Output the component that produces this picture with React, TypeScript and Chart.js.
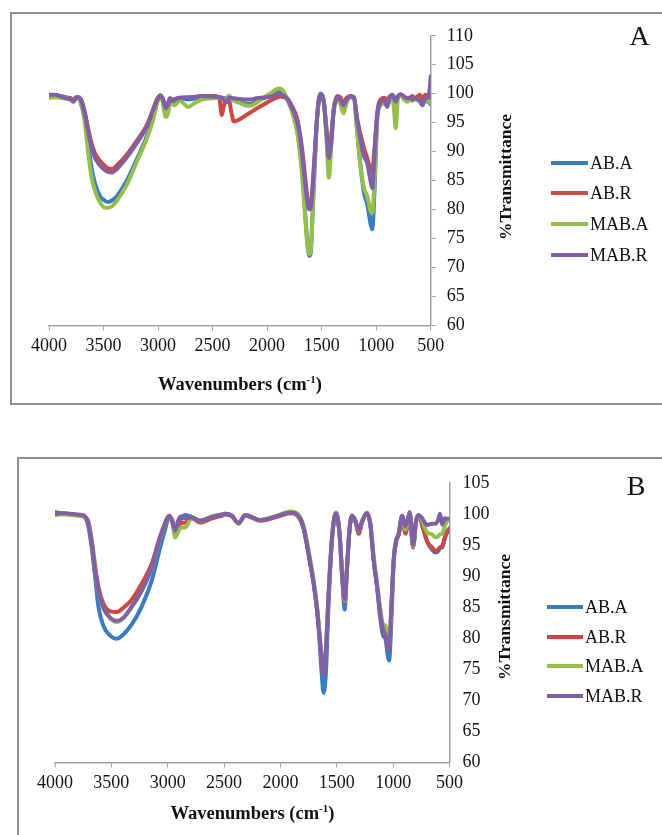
import React, { useEffect, useRef } from "react";
import { Chart, registerables } from "chart.js";

Chart.register(...registerables);

const SERIES_NAMES = ["AB.A", "AB.R", "MAB.A", "MAB.R"];
const SERIES_COLORS = ["#3a7bc2", "#cc4842", "#95bf4b", "#7f60a8"];

const X_TICKS = [4000, 3500, 3000, 2500, 2000, 1500, 1000, 500];

// ---------- Panel A ----------
const A_WAVENUMBERS = [
  4000, 3950, 3900, 3850, 3800, 3775, 3750, 3725, 3700, 3669, 3639, 3608, 3578, 3532, 3486, 3458, 3420, 3378,
  3286, 3194, 3102, 3042, 3005, 2980, 2960, 2930, 2910, 2890, 2870, 2850, 2800, 2720, 2680, 2600, 2500, 2440,
  2415, 2395, 2370, 2350, 2330, 2305, 2250, 2200, 2150, 2100, 2000, 1950, 1900, 1880, 1850, 1817, 1771, 1725,
  1694, 1670, 1648, 1627, 1612, 1600, 1587, 1566, 1541, 1511, 1480, 1456, 1434, 1413, 1389, 1357, 1330, 1300,
  1270, 1235, 1204, 1174, 1143, 1112, 1082, 1051, 1036, 1015, 990, 960, 930, 898, 875, 852, 835, 821, 800, 775,
  745, 714, 690, 668, 645, 622, 600, 576, 560, 545, 525, 508, 500,
];
const A_AB_A = [
  99.6, 99.7, 99.6, 99.4, 99.2, 98.8, 99.3, 99.2, 97.8, 95.5, 91.0, 87.0, 84.5, 82.3, 81.5, 81.3, 81.6, 82.3,
  85.0, 88.7, 92.7, 96.2, 98.8, 99.7, 99.0, 97.0, 97.5, 98.8, 98.6, 98.8, 99.2, 99.0, 99.1, 99.4, 99.5, 99.4,
  99.3, 99.2, 99.3, 99.4, 99.2, 99.0, 98.6, 98.3, 98.2, 98.7, 99.5, 99.9, 100.3, 100.2, 99.8, 99.0, 97.0, 93.8,
  89.5, 84.5, 78.5, 73.5, 72.0, 72.5, 77.5, 86.5, 96.0, 100.0, 98.6, 93.0, 87.8, 91.5, 97.2, 99.4, 99.0, 97.5,
  99.0, 99.5, 99.3, 93.6, 87.5, 82.9, 80.9, 77.5, 76.6, 83.3, 96.0, 98.6, 98.8, 98.0, 99.3, 99.6, 99.0, 98.8, 99.5, 99.8,
  99.4, 99.0, 99.2, 99.0, 99.2, 99.0, 98.8, 98.6, 99.0, 99.0, 98.6, 98.3, 98.2,
];
const A_AB_R = [
  99.5, 99.6, 99.5, 99.3, 99.2, 99.0, 99.4, 99.3, 98.8, 96.6, 93.8, 91.3, 89.7, 88.4, 87.5, 87.1, 87.0, 87.6,
  89.5, 91.9, 94.6, 97.5, 99.2, 99.7, 99.3, 98.0, 98.3, 99.2, 99.0, 99.0, 99.3, 99.3, 99.4, 99.6, 99.6, 99.4,
  96.3, 98.0, 99.2, 99.0, 97.0, 95.2, 95.6, 96.2, 96.8, 97.4, 98.5, 99.0, 99.4, 99.5, 99.4, 99.2, 97.8, 95.7,
  92.5, 89.0, 85.0, 81.5, 80.5, 80.6, 83.0, 89.0, 96.0, 99.8, 98.6, 94.0, 90.0, 92.5, 97.5, 99.6, 99.4, 98.5,
  99.3, 99.6, 99.4, 95.7, 92.9, 90.6, 88.9, 86.9, 86.6, 90.6, 96.8, 99.0, 99.3, 99.0, 99.5, 99.7, 99.4, 99.2, 99.6, 99.8,
  99.5, 99.2, 99.3, 99.6, 99.2, 99.5, 99.8, 99.0, 99.6, 99.8, 99.4, 99.3, 99.3,
];
const A_MAB_A = [
  99.3, 99.4, 99.3, 99.2, 99.0, 98.8, 99.2, 99.0, 98.0, 94.6, 89.5, 85.4, 83.2, 81.2, 80.3, 80.3, 80.6, 81.5,
  84.3, 88.3, 92.3, 95.7, 98.6, 99.6, 98.8, 96.0, 96.5, 98.3, 98.2, 98.0, 98.8, 97.7, 98.2, 99.0, 99.2, 99.3,
  99.2, 99.0, 99.2, 99.7, 99.2, 98.8, 98.4, 98.0, 97.9, 98.4, 99.7, 100.3, 100.9, 100.9, 100.4, 99.1, 96.9, 93.4,
  88.9, 83.7, 78.0, 73.2, 72.3, 72.8, 77.5, 86.6, 96.3, 100.0, 98.6, 92.3, 85.5, 90.6, 97.4, 99.0, 98.2, 96.6,
  98.5, 99.4, 99.2, 93.4, 87.2, 83.7, 82.3, 79.7, 79.4, 84.9, 95.5, 98.0, 98.3, 98.0, 99.2, 99.6, 97.0, 94.0, 99.2, 99.7,
  99.0, 98.6, 99.0, 98.8, 99.0, 99.0, 98.6, 98.0, 98.6, 99.0, 98.8, 98.5, 98.4,
];
const A_MAB_R = [
  99.8, 99.8, 99.6, 99.2, 99.0, 98.6, 99.4, 99.4, 98.6, 96.2, 93.2, 90.6, 88.9, 87.6, 86.8, 86.5, 86.4, 87.0,
  89.0, 91.5, 94.3, 97.3, 99.0, 99.7, 99.3, 97.5, 98.0, 99.2, 98.7, 99.0, 99.3, 99.4, 99.4, 99.6, 99.5, 99.4,
  99.3, 98.8, 98.5, 99.3, 99.3, 99.2, 99.1, 99.0, 99.0, 99.2, 99.4, 99.6, 99.9, 99.9, 99.7, 99.2, 97.5, 95.2,
  92.0, 88.0, 84.0, 80.8, 80.0, 80.2, 82.5, 88.5, 96.0, 100.0, 98.5, 93.5, 88.9, 91.5, 97.0, 99.3, 99.0, 98.0,
  99.0, 99.5, 99.3, 95.2, 92.0, 89.2, 88.0, 84.9, 83.7, 89.4, 96.3, 98.5, 99.0, 97.7, 99.4, 99.8, 99.2, 98.6, 99.6, 99.9,
  99.5, 99.2, 99.3, 99.0, 99.2, 99.0, 98.8, 98.0, 98.8, 99.2, 99.4, 101.0, 103.0,
];

// ---------- Panel B ----------
const B_WAVENUMBERS = [
  4000, 3950, 3900, 3850, 3800, 3763, 3733, 3704, 3674, 3645, 3615, 3571, 3511, 3452, 3393, 3319, 3230, 3141,
  3067, 3023, 2988, 2960, 2934, 2910, 2880, 2845, 2786, 2712, 2608, 2520, 2490, 2431, 2372, 2312, 2268, 2179,
  2090, 2001, 1912, 1853, 1820, 1794, 1765, 1735, 1705, 1676, 1656, 1635, 1617, 1596, 1572, 1542, 1507, 1475,
  1452, 1430, 1409, 1386, 1364, 1334, 1305, 1275, 1232, 1202, 1172, 1143, 1113, 1089, 1068, 1048, 1036, 1015,
  995, 974, 951, 920, 891, 853, 823, 797, 773, 743, 698, 654, 624, 600, 585, 565, 542, 521, 500,
];
const B_AB_A = [
  100.3, 100.1, 100.0, 99.9, 99.8, 99.8, 99.5, 98.0, 94.5, 90.0, 85.1, 82.0, 80.4, 79.9, 80.6, 82.2, 85.1, 89.3,
  94.6, 97.5, 99.5, 98.8, 97.0, 98.2, 99.2, 99.8, 99.5, 98.9, 99.5, 99.8, 100.0, 99.7, 98.5, 99.8, 99.6, 99.0,
  99.3, 99.8, 100.2, 100.0, 99.0, 97.7, 95.1, 92.0, 88.8, 84.6, 80.4, 74.6, 71.2, 74.6, 86.0, 96.0, 100.1, 96.7,
  89.9, 84.6, 91.4, 97.7, 99.7, 98.8, 97.0, 98.8, 100.1, 98.3, 92.5, 88.3, 83.0, 80.4, 79.9, 77.2, 76.4, 83.0,
  92.5, 95.6, 96.7, 99.7, 97.0, 100.0, 94.6, 98.8, 99.8, 98.2, 95.5, 94.2, 93.8, 94.0, 94.5, 94.6, 96.0, 97.0, 97.5,
];
const B_AB_R = [
  99.9, 100.0, 100.0, 99.8, 99.8, 99.7, 99.4, 98.8, 95.8, 91.8, 88.3, 85.6, 84.3, 84.2, 84.9, 86.2, 88.8, 92.0,
  96.4, 98.5, 99.7, 99.0, 97.5, 98.0, 98.5, 98.6, 99.3, 98.6, 99.3, 99.7, 99.9, 99.6, 98.5, 99.7, 99.5, 98.9,
  99.2, 99.7, 100.1, 99.8, 98.9, 97.7, 95.1, 92.0, 88.8, 84.8, 81.0, 76.5, 74.3, 78.0, 87.2, 96.2, 100.1, 96.7,
  90.0, 85.9, 91.4, 97.7, 99.7, 98.8, 96.8, 98.8, 100.1, 98.3, 92.5, 88.5, 84.0, 81.0, 80.5, 78.5, 78.2, 85.0,
  92.5, 95.6, 96.7, 99.6, 96.8, 100.3, 94.6, 98.8, 99.6, 98.3, 95.6, 94.6, 94.0, 94.3, 94.6, 94.8, 96.2, 97.2, 97.7,
];
const B_MAB_A = [
  99.8, 99.9, 99.9, 99.8, 99.7, 99.6, 99.4, 98.5, 95.2, 91.0, 87.6, 84.8, 83.2, 82.6, 83.2, 85.0, 87.6, 91.3,
  96.0, 98.4, 99.6, 98.6, 96.2, 97.0, 97.8, 97.8, 99.4, 98.9, 99.6, 99.9, 100.0, 99.7, 98.4, 99.8, 99.6, 99.0,
  99.4, 99.9, 100.4, 100.1, 99.3, 98.0, 95.6, 92.6, 89.4, 85.3, 81.5, 77.0, 74.9, 78.5, 87.5, 96.4, 100.2, 96.8,
  90.2, 86.0, 91.5, 97.8, 99.7, 98.8, 97.2, 98.9, 100.2, 98.5, 93.0, 89.0, 84.6, 82.2, 82.0, 79.5, 78.6, 85.0,
  92.8, 95.8, 96.9, 99.7, 97.5, 100.0, 94.8, 98.9, 99.6, 98.9, 97.0, 96.7, 96.2, 96.4, 96.7, 96.8, 98.0, 98.8, 99.0,
];
const B_MAB_R = [
  100.0, 100.1, 100.1, 100.0, 99.9, 99.8, 99.6, 98.3, 95.1, 90.9, 87.7, 84.9, 83.3, 82.8, 83.3, 85.1, 87.7, 91.4,
  96.2, 98.5, 99.7, 98.8, 97.3, 98.8, 99.6, 99.3, 99.4, 98.9, 99.5, 99.9, 100.0, 99.7, 98.5, 99.8, 99.6, 99.0,
  99.3, 99.8, 100.2, 99.9, 99.1, 97.7, 95.1, 92.0, 88.8, 84.8, 81.0, 76.7, 74.6, 78.3, 87.2, 96.2, 100.1, 96.7,
  90.0, 86.2, 91.4, 97.7, 99.7, 98.8, 97.3, 98.8, 100.1, 98.3, 92.5, 88.3, 83.8, 81.4, 80.5, 78.8, 78.3, 85.6,
  92.5, 95.6, 96.7, 99.7, 98.0, 100.0, 95.0, 98.8, 99.8, 99.3, 98.2, 98.4, 98.4, 99.1, 100.0, 98.3, 99.3, 99.2, 99.2,
];

const SERIF = "'Liberation Serif', 'Times New Roman', serif";

type PanelCfg = {
  letter: string;
  wavenumbers: number[];
  series: number[][];
  yMax: number;
  width: number;
  height: number;
  padLeft: number;
  padTop: number;
  padBottom: number;
  yAxisWidth: number;
  yTickMarks: boolean;
  yTickPadding: number;
  letterX: number;
  letterY: number;
  yTitleX: number;
  yTitleY: number;
  xTitleX: number;
  xTitleY: number;
  legendX1: number;
  legendX2: number;
  legendTextX: number;
  legendRows: number[];
};

const decorPlugin = {
  id: "panelDecor",
  afterDraw(chart: any, _args: any, opts: any) {
    const ctx = chart.ctx as CanvasRenderingContext2D;
    const c: PanelCfg = opts.cfg;
    ctx.save();
    ctx.fillStyle = "#111";
    // panel letter
    ctx.font = `28px ${SERIF}`;
    ctx.textAlign = "center";
    ctx.textBaseline = "alphabetic";
    ctx.fillText(c.letter, c.letterX, c.letterY);
    // y title
    ctx.save();
    ctx.translate(c.yTitleX, c.yTitleY);
    ctx.rotate(-Math.PI / 2);
    ctx.font = `bold 17.5px ${SERIF}`;
    ctx.textAlign = "center";
    ctx.textBaseline = "middle";
    ctx.fillText("%Transmittance", 0, 0);
    ctx.restore();
    // x title with superscript
    const main = "Wavenumbers (cm";
    const sup = "-1";
    const close = ")";
    ctx.font = `bold 18.5px ${SERIF}`;
    const w1 = ctx.measureText(main).width;
    const w3 = ctx.measureText(close).width;
    ctx.font = `bold 11px ${SERIF}`;
    const w2 = ctx.measureText(sup).width;
    const total = w1 + w2 + w3;
    let x = c.xTitleX - total / 2;
    ctx.textAlign = "left";
    ctx.textBaseline = "alphabetic";
    const base = c.xTitleY + 6;
    ctx.font = `bold 18.5px ${SERIF}`;
    ctx.fillText(main, x, base);
    x += w1;
    ctx.font = `bold 11px ${SERIF}`;
    ctx.fillText(sup, x, base - 7);
    x += w2;
    ctx.font = `bold 18.5px ${SERIF}`;
    ctx.fillText(close, x, base);
    // legend
    ctx.font = `18px ${SERIF}`;
    ctx.textBaseline = "middle";
    SERIES_NAMES.forEach((name, i) => {
      const y = c.legendRows[i];
      ctx.strokeStyle = SERIES_COLORS[i];
      ctx.lineWidth = 4;
      ctx.lineCap = "butt";
      ctx.beginPath();
      ctx.moveTo(c.legendX1, y);
      ctx.lineTo(c.legendX2, y);
      ctx.stroke();
      ctx.fillStyle = "#111";
      ctx.fillText(name, c.legendTextX, y + 1);
    });
    ctx.restore();
  },
};

function Panel({ cfg }: { cfg: PanelCfg }) {
  const ref = useRef<HTMLCanvasElement | null>(null);
  useEffect(() => {
    if (!ref.current) return;
    const datasets = cfg.series.map((vals, i) => ({
      label: SERIES_NAMES[i],
      data: cfg.wavenumbers.map((wn, j) => ({ x: wn, y: vals[j] })),
      borderColor: SERIES_COLORS[i],
      backgroundColor: SERIES_COLORS[i],
      borderWidth: 4,
      pointRadius: 0,
      cubicInterpolationMode: "monotone" as const,
      borderJoinStyle: "round" as const,
      borderCapStyle: "round" as const,
      order: 4 - i,
      fill: false,
    }));
    const chart = new Chart(ref.current, {
      type: "line",
      data: { datasets },
      plugins: [decorPlugin],
      options: {
        animation: false,
        responsive: false,
        maintainAspectRatio: false,
        devicePixelRatio: 1,
        layout: { padding: { left: cfg.padLeft, top: cfg.padTop, right: 0, bottom: cfg.padBottom } },
        plugins: {
          legend: { display: false },
          tooltip: { enabled: false },
          title: { display: false },
          panelDecor: { cfg },
        } as any,
        scales: {
          x: {
            type: "linear",
            position: "bottom",
            min: 500,
            max: 4000,
            reverse: true,
            afterBuildTicks: (s: any) => {
              s.ticks = X_TICKS.map((v) => ({ value: v }));
            },
            afterFit: (s: any) => {
              s.height = 40;
            },
            ticks: {
              autoSkip: false,
              maxRotation: 0,
              padding: 5,
              color: "#141414",
              font: { family: SERIF, size: 18 },
              callback: (v: any) => String(v),
            },
            grid: {
              display: true,
              drawOnChartArea: false,
              drawTicks: true,
              tickLength: 5,
              color: "#a3a3a3",
              lineWidth: 1,
            },
            border: { display: true, color: "#a3a3a3", width: 1.5 },
          },
          y: {
            type: "linear",
            position: "right",
            min: 60,
            max: cfg.yMax,
            afterFit: (s: any) => {
              s.width = cfg.yAxisWidth;
            },
            ticks: {
              stepSize: 5,
              padding: cfg.yTickPadding,
              color: "#141414",
              font: { family: SERIF, size: 18 },
              callback: (v: any) => String(v),
            },
            grid: {
              display: true,
              drawOnChartArea: false,
              drawTicks: cfg.yTickMarks,
              tickLength: 5,
              color: "#a3a3a3",
              lineWidth: 1,
            },
            border: { display: true, color: "#a3a3a3", width: 1.5 },
          },
        },
      } as any,
    });
    return () => chart.destroy();
  }, [cfg]);
  return (
    <canvas
      ref={ref}
      width={cfg.width}
      height={cfg.height}
      style={{ display: "block", width: cfg.width, height: cfg.height }}
    />
  );
}

const PANEL_A: PanelCfg = {
  letter: "A",
  wavenumbers: A_WAVENUMBERS,
  series: [A_AB_A, A_AB_R, A_MAB_A, A_MAB_R],
  yMax: 110,
  width: 650,
  height: 389,
  padLeft: 37,
  padTop: 19.3,
  padBottom: 37.7,
  yAxisWidth: 231.3,
  yTickMarks: true,
  yTickPadding: 11,
  letterX: 627.5,
  letterY: 31,
  yTitleX: 494,
  yTitleY: 163,
  xTitleX: 228,
  xTitleY: 370,
  legendX1: 539,
  legendX2: 576,
  legendTextX: 578,
  legendRows: [149, 179, 210, 241],
};

const PANEL_B: PanelCfg = {
  letter: "B",
  wavenumbers: B_WAVENUMBERS,
  series: [B_AB_A, B_AB_R, B_MAB_A, B_MAB_R],
  yMax: 105,
  width: 650,
  height: 380,
  padLeft: 36,
  padTop: 18.3,
  padBottom: 36.6,
  yAxisWidth: 219.5,
  yTickMarks: false,
  yTickPadding: 13,
  letterX: 617,
  letterY: 36,
  yTitleX: 486,
  yTitleY: 158,
  xTitleX: 233.5,
  xTitleY: 354,
  legendX1: 528,
  legendX2: 564,
  legendTextX: 566,
  legendRows: [148, 178, 207, 237],
};

export default function App() {
  return (
    <div
      style={{
        position: "fixed",
        left: 0,
        top: 0,
        width: 662,
        height: 835,
        overflow: "hidden",
        background: "#ffffff",
      }}
    >
      <div
        style={{
          position: "absolute",
          left: 10,
          top: 12,
          width: 660,
          height: 389,
          border: "2px solid #8f8f8f",
        }}
      >
        <Panel cfg={PANEL_A} />
      </div>
      <div
        style={{
          position: "absolute",
          left: 17,
          top: 457,
          width: 660,
          height: 400,
          border: "2px solid #8f8f8f",
        }}
      >
        <Panel cfg={PANEL_B} />
      </div>
    </div>
  );
}
